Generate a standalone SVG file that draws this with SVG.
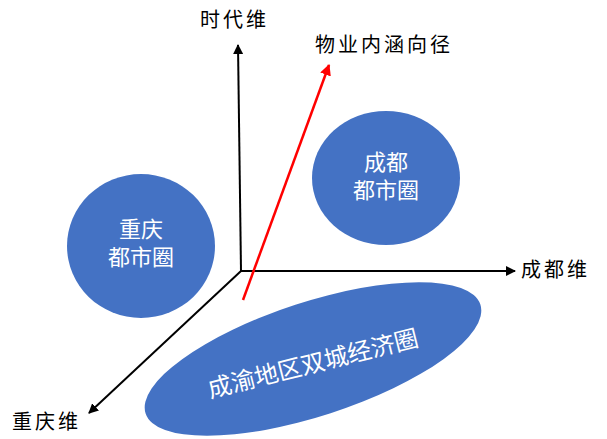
<svg xmlns="http://www.w3.org/2000/svg" width="607" height="439" viewBox="0 0 607 439">
<style>
.lbl{font-family:"Liberation Serif","Noto Sans CJK SC",serif;font-size:20px;fill:#000;letter-spacing:3px}
.in{font-family:"Liberation Sans","Noto Sans CJK SC",sans-serif;font-size:22px;fill:#fff;text-anchor:middle}
.node{fill:#4472C4}
</style>
<defs>
<marker id="ab" viewBox="0 0 10 10" refX="9" refY="5" markerWidth="5" markerHeight="5" orient="auto" markerUnits="strokeWidth"><path d="M0,0 L10,5 L0,10 z" fill="#000"/></marker>
<marker id="ar" viewBox="0 0 10 10" refX="9" refY="5" markerWidth="4.5" markerHeight="4.5" orient="auto" markerUnits="strokeWidth"><path d="M0,0 L10,5 L0,10 z" fill="#FF0000"/></marker>
</defs>
<g id="cq">
<ellipse class="node" cx="141" cy="246" rx="74" ry="72"/>
<text class="in" x="141" y="237">重庆</text>
<text class="in" x="141" y="265">都市圈</text>
</g>
<g id="cd">
<ellipse class="node" cx="386" cy="178" rx="74" ry="67"/>
<text class="in" x="386" y="170">成都</text>
<text class="in" x="386" y="198">都市圈</text>
</g>
<g id="cy">
<ellipse class="node" cx="313" cy="359" rx="176" ry="57" transform="rotate(-18 313 359)"/>
<text class="in" style="font-size:24px" x="313" y="372" transform="rotate(-14 313 364)">成渝地区双城经济圈</text>
</g>
<g id="connectors" fill="none">
<line x1="241" y1="271" x2="238" y2="45" stroke="#000" stroke-width="2" marker-end="url(#ab)"/>
<line x1="241" y1="271" x2="515" y2="271" stroke="#000" stroke-width="2" marker-end="url(#ab)"/>
<line x1="241" y1="271" x2="89" y2="413" stroke="#000" stroke-width="2" marker-end="url(#ab)"/>
<line x1="243" y1="300" x2="329" y2="65" stroke="#FF0000" stroke-width="2.5" marker-end="url(#ar)"/>
</g>
<g id="labels">
<text class="lbl" x="200" y="27">时代维</text>
<text class="lbl" x="315" y="52">物业内涵向径</text>
<text class="lbl" x="521" y="277">成都维</text>
<text class="lbl" x="12" y="429">重庆维</text>
</g>
</svg>
